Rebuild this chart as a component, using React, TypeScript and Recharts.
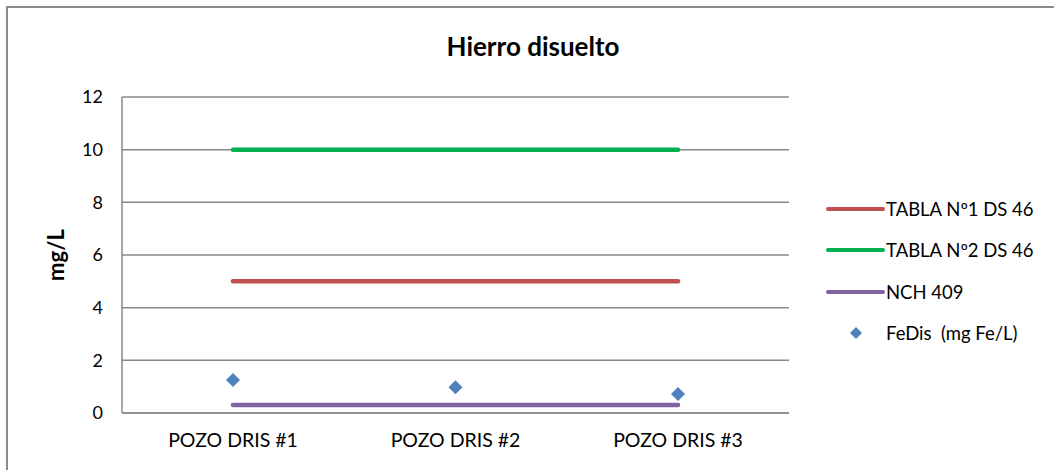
import React from "react";
import {
  ComposedChart,
  Line,
  Scatter,
  XAxis,
  YAxis,
  CartesianGrid,
} from "recharts";

const categories = ["POZO DRIS #1", "POZO DRIS #2", "POZO DRIS #3"];
const tabla1 = [5, 5, 5];
const tabla2 = [10, 10, 10];
const nch409 = [0.3, 0.3, 0.3];
const feDis = [1.25, 0.98, 0.72];
const yTicks = [0, 2, 4, 6, 8, 10, 12];

const FONT = "Lato, 'Open Sans', sans-serif";
const GRID = "#8a8a8a";

const series = [
  { key: "t1", name: "TABLA Nº1 DS 46", color: "#C0504D", kind: "line" },
  { key: "t2", name: "TABLA Nº2 DS 46", color: "#00B050", kind: "line" },
  { key: "nch", name: "NCH 409", color: "#8064A2", kind: "line" },
  { key: "fe", name: "FeDis  (mg Fe/L)", color: "#4F81BD", kind: "diamond" },
];

const data = categories.map((c, i) => ({
  name: c,
  t1: tabla1[i],
  t2: tabla2[i],
  nch: nch409[i],
  fe: feDis[i],
}));

function Diamond(props: any) {
  const { cx, cy } = props;
  if (cx == null || cy == null) return null;
  const r = 7;
  return (
    <polygon
      points={`${cx},${cy - r} ${cx + r},${cy} ${cx},${cy + r} ${cx - r},${cy}`}
      fill="#4F81BD"
    />
  );
}

function LegendBox() {
  return (
    <div style={{ fontFamily: FONT, fontSize: 18.5, color: "#000" }}>
      {series.map((s) => (
        <div
          key={s.key}
          style={{ display: "flex", alignItems: "center", height: 41.5 }}
        >
          <svg width={62} height={14}>
            {s.kind === "line" ? (
              <line
                x1={4}
                y1={7}
                x2={59}
                y2={7}
                stroke={s.color}
                strokeWidth={4}
                strokeLinecap="round"
              />
            ) : (
              <polygon points="32,1 38,7 32,13 26,7" fill={s.color} />
            )}
          </svg>
          <span style={{ whiteSpace: "pre" }}>{s.name}</span>
        </div>
      ))}
    </div>
  );
}

export default function App() {
  return (
    <div
      style={{
        position: "fixed",
        left: 0,
        top: 0,
        width: 1054,
        height: 470,
        overflow: "hidden",
        background: "#fff",
      }}
    >
      <div
        style={{
          position: "absolute",
          left: 6,
          top: 6,
          width: 1100,
          height: 500,
          border: "2px solid #8c8c8c",
        }}
      />
      <div
        style={{
          position: "absolute",
          left: 0,
          top: 31,
          width: 1066,
          textAlign: "center",
          fontFamily: FONT,
          fontWeight: 700,
          fontSize: 26,
          lineHeight: "30px",
          color: "#000",
        }}
      >
        Hierro disuelto
      </div>
      <div style={{ position: "absolute", left: 0, top: 0 }}>
        <ComposedChart
          width={1054}
          height={470}
          data={data}
          margin={{ top: 97, right: 265, bottom: 0, left: 0 }}
        >
          <CartesianGrid
            vertical={false}
            stroke={GRID}
            strokeWidth={1.5}
          />
          <XAxis
            dataKey="name"
            height={57}
            padding={{ left: 111, right: 111 }}
            tickLine={false}
            tickSize={0}
            tickMargin={20}
            axisLine={{ stroke: GRID, strokeWidth: 1.5 }}
            tick={{ fontFamily: FONT, fontSize: 19.5, fill: "#000" }}
          />
          <YAxis
            width={122}
            domain={[0, 12]}
            ticks={yTicks}
            tickLine={false}
            tickSize={0}
            tickMargin={19}
            axisLine={{ stroke: GRID, strokeWidth: 1.5 }}
            tick={{ fontFamily: FONT, fontSize: 18, fill: "#000" }}
            label={{
              value: "mg/L",
              angle: -90,
              position: "insideLeft",
              offset: 56,
              style: {
                fontFamily: FONT,
                fontSize: 22,
                fontWeight: 700,
                fill: "#000",
                textAnchor: "middle",
              },
            }}
          />
          {series
            .filter((s) => s.kind === "line")
            .map((s) => (
              <Line
                key={s.key}
                dataKey={s.key}
                name={s.name}
                stroke={s.color}
                strokeWidth={4.5}
                strokeLinecap="round"
                dot={false}
                activeDot={false}
                isAnimationActive={false}
              />
            ))}
          <Scatter
            dataKey="fe"
            name="FeDis  (mg Fe/L)"
            fill="#4F81BD"
            shape={<Diamond />}
            isAnimationActive={false}
          />
        </ComposedChart>
      </div>
      <div style={{ position: "absolute", left: 824, top: 188, width: 230 }}>
        <LegendBox />
      </div>
    </div>
  );
}
